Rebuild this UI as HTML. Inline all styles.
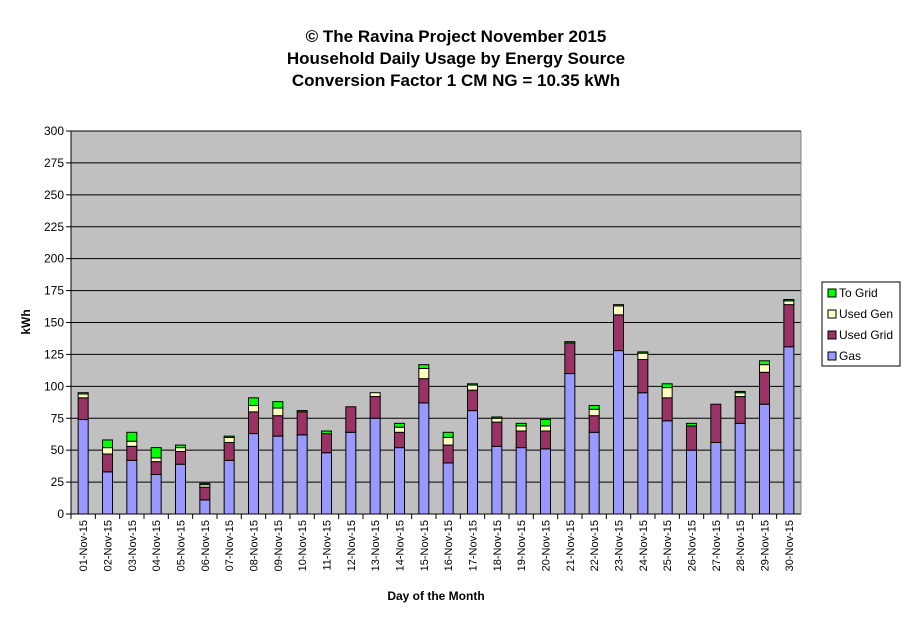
<!DOCTYPE html>
<html><head><meta charset="utf-8"><style>
body{margin:0;background:#fff;font-family:"Liberation Sans",Arial,sans-serif}
</style></head><body>
<svg width="911" height="623" xmlns="http://www.w3.org/2000/svg" font-family="Liberation Sans, Arial, sans-serif">
<g font-size="17" font-weight="bold" text-anchor="middle">
<text x="456" y="42">© The Ravina Project November 2015</text>
<text x="456" y="64">Household Daily Usage by Energy Source</text>
<text x="456" y="86">Conversion Factor 1 CM NG = 10.35 kWh</text>
</g>
<rect x="71" y="131" width="730" height="383" fill="#c0c0c0"/>
<g id="grid"></g><g id="bars"></g><g id="axes"></g>
<text x="30" y="322" font-size="12" font-weight="bold" text-anchor="middle" transform="rotate(-90 30 322)">kWh</text>
<text x="436" y="600" font-size="12" font-weight="bold" text-anchor="middle">Day of the Month</text>
<g>
<rect x="822" y="282" width="78" height="84" fill="#fff" stroke="#000"/>
<rect x="828" y="289" width="8" height="8" fill="#00ff00" stroke="#000"/>
<text x="839" y="297" font-size="12">To Grid</text>
<rect x="828" y="310" width="8" height="8" fill="#ffffc0" stroke="#000"/>
<text x="839" y="318" font-size="12">Used Gen</text>
<rect x="828" y="331" width="8" height="8" fill="#993366" stroke="#000"/>
<text x="839" y="339" font-size="12">Used Grid</text>
<rect x="828" y="352" width="8" height="8" fill="#9999ff" stroke="#000"/>
<text x="839" y="360" font-size="12">Gas</text>
</g>
</svg>
<script>
const days=["01-Nov-15","02-Nov-15","03-Nov-15","04-Nov-15","05-Nov-15","06-Nov-15","07-Nov-15","08-Nov-15","09-Nov-15","10-Nov-15","11-Nov-15","12-Nov-15","13-Nov-15","14-Nov-15","15-Nov-15","16-Nov-15","17-Nov-15","18-Nov-15","19-Nov-15","20-Nov-15","21-Nov-15","22-Nov-15","23-Nov-15","24-Nov-15","25-Nov-15","26-Nov-15","27-Nov-15","28-Nov-15","29-Nov-15","30-Nov-15"];
const gas=[74,33,42,31,39,11,42,63,61,62,48,64,75,52,87,40,81,53,52,51,110,64,128,95,73,50,56,71,86,131];
const usedGrid=[17,14,11,10,10,10,14,17,16,18,15,20,17,12,19,14,16,19,13,14,24,13,28,26,18,19,30,21,25,33];
const usedGen=[3,5,4,3,3,2,4,5,6,0,0,0,3,4,8,6,4,3,4,4,0,5,7,5,8,0,0,3,6,3];
const toGrid=[1,6,7,8,2,1,1,6,5,1,2,0,0,3,3,4,1,1,2,5,1,3,1,1,3,2,0,1,3,1];
const yTicks=[0,25,50,75,100,125,150,175,200,225,250,275,300];
const NS="http://www.w3.org/2000/svg";
const X0=71,X1=801,Y0=514,Y1=131,YMAX=300;
const y=v=>Y0-(v/YMAX)*(Y0-Y1);
const step=(X1-X0)/days.length;
const xc=i=>X0+(i+0.5)*step;
function mk(t,a,p){const e=document.createElementNS(NS,t);for(const k in a)e.setAttribute(k,a[k]);p.appendChild(e);return e;}
const G=document.getElementById('grid'),B=document.getElementById('bars'),A=document.getElementById('axes');
yTicks.forEach(v=>{
 const l=mk('line',{x1:X0,x2:X1,y1:y(v),y2:y(v),stroke:'#000','stroke-width':1},G);
 
 
 mk('line',{x1:X0-5,x2:X0,y1:y(v),y2:y(v),stroke:'#000'},A);
 const t=mk('text',{x:X0-7,y:y(v)+4,'font-size':12,'text-anchor':'end'},A);t.textContent=v;
 
 
});
mk('line',{x1:X0,x2:X0,y1:Y1,y2:Y0,stroke:'#000'},A);
mk('line',{x1:X0,x2:X1,y1:Y0,y2:Y0,stroke:'#000'},A);
mk('line',{x1:X1,x2:X1,y1:Y1,y2:Y0,stroke:'#808080'},A);
const series=[[gas,'#9999ff','gas'],[usedGrid,'#993366','used-grid'],[usedGen,'#ffffc0','used-gen'],[toGrid,'#00ff00','to-grid']];
days.forEach((d,i)=>{
 let base=0;const w=10;
 series.forEach(([arr,c,n])=>{
  const v=arr[i];if(v<=0)return;
  const r=mk('rect',{x:xc(i)-w/2,y:y(base+v),width:w,height:y(base)-y(base+v),fill:c,stroke:'#000','stroke-width':1},B);
  
  
  base+=v;
 });
 mk('line',{x1:X0+i*step,x2:X0+i*step,y1:Y0,y2:Y0+5,stroke:'#000'},A);
 const t=mk('text',{x:xc(i)+4,y:Y0+6,'font-size':11,'text-anchor':'end',transform:`rotate(-90 ${xc(i)+4} ${Y0+6})`},A);
 t.textContent=d;
 
 
});
</script>
</body></html>
